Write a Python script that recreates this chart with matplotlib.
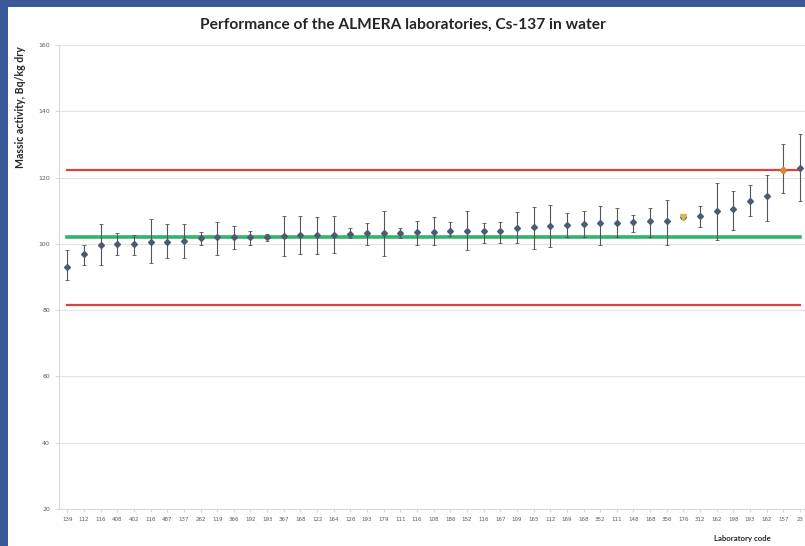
import numpy as np
import matplotlib
matplotlib.use("Agg")
import matplotlib.pyplot as plt
from matplotlib.patches import Rectangle

# Lab codes (x axis), measured values and uncertainty bounds
lab_codes = ["139", "112", "116", "408", "402", "116", "487", "137", "262", "119",
             "366", "192", "193", "367", "168", "122", "164", "126", "193", "179",
             "111", "116", "108", "186", "152", "116", "167", "109", "165", "112",
             "169", "168", "352", "111", "148", "168", "356", "176", "312", "162",
             "198", "193", "162", "157", "23"]
values = [92.9, 97.0, 99.7, 99.9, 99.9, 100.7, 100.7, 100.9, 101.7, 102.2,
          102.0, 102.0, 102.0, 102.4, 102.6, 102.7, 102.7, 103.0, 103.2, 103.2,
          103.2, 103.7, 103.5, 104.0, 104.0, 104.0, 104.0, 104.8, 105.1, 105.4,
          105.8, 106.0, 106.3, 106.3, 106.6, 106.8, 107.0, 108.1, 108.5, 110.0,
          110.6, 113.0, 114.3, 122.4, 122.9]
lower = [89.1, 93.6, 93.6, 96.7, 96.7, 94.2, 95.8, 95.8, 99.7, 96.7,
         98.3, 99.7, 100.8, 96.4, 97.0, 97.0, 97.3, 101.7, 99.7, 96.2,
         101.7, 99.7, 99.7, 102.4, 98.0, 100.3, 100.3, 100.2, 98.5, 99.2,
         102.2, 102.2, 99.7, 102.2, 103.7, 102.2, 99.7, 107.5, 105.2, 101.2,
         104.2, 108.3, 106.8, 115.4, 112.8]
upper = [98.2, 99.8, 106.0, 103.3, 102.7, 107.5, 106.0, 106.0, 103.7, 106.5,
         105.5, 104.0, 103.0, 108.5, 108.5, 108.0, 108.5, 104.8, 106.3, 110.0,
         104.8, 107.0, 108.0, 106.7, 110.0, 106.3, 106.6, 109.5, 111.0, 111.8,
         109.3, 109.8, 111.3, 110.8, 108.8, 110.8, 113.3, 108.7, 111.3, 118.4,
         115.8, 117.9, 120.9, 130.0, 133.0]
target = 102.0
limit_low = 81.6
limit_high = 122.4

x = np.arange(len(values))
v = np.array(values)
yerr = [v - np.array(lower), np.array(upper) - v]

fig = plt.figure(figsize=(8.05, 5.46), dpi=100)
fig.patch.set_facecolor("#3b5998")
fig.patches.append(Rectangle((8 / 805, 0), 1, 1 - 7 / 546, transform=fig.transFigure,
                             facecolor="white", edgecolor="none", zorder=-1))

ax = fig.add_axes([59 / 805, 37 / 546, 1 - 59 / 805, 464 / 546])
ax.set_zorder(2)
ax.set_facecolor("white")

ax.plot(x, [target] * len(x), color="#33b36b", lw=2.6, zorder=2)
ax.plot(x, [limit_high] * len(x), color="#e0403a", lw=1.6, zorder=2)
ax.plot(x, [limit_low] * len(x), color="#e0403a", lw=1.6, zorder=2)

ax.errorbar(x, v, yerr=yerr, fmt="D", ms=3, color="#4d5b6e", ecolor="#555555",
            elinewidth=0.8, capsize=1.2, capthick=0.6, zorder=3)
# highlighted labs
ax.plot(x[37], v[37], "v", ms=4, color="#d9b84a", zorder=4)
ax.plot(x[43], v[43], "D", ms=3.2, color="#e8803a", zorder=4)

ax.set_ylim(20, 160)
ax.set_yticks(range(20, 161, 20))
ax.set_xlim(-0.5, 44.3)
ax.set_xticks(x)
ax.set_xticklabels(lab_codes, fontsize=4, color="#595959")
ax.tick_params(axis="y", labelsize=4.5, labelcolor="#595959", length=3, color="#d9d9d9")
ax.tick_params(axis="x", length=2, color="#d9d9d9", pad=4)
ax.yaxis.grid(True, color="#e3e3e3", lw=0.8)
ax.set_axisbelow(True)
for s in ["top", "right"]:
    ax.spines[s].set_visible(False)
for s in ["left", "bottom"]:
    ax.spines[s].set_color("#d9d9d9")
    ax.spines[s].set_linewidth(0.8)

fig.text(0.5, 1 - 25 / 546, "Performance of the ALMERA laboratories, Cs-137 in water",
         ha="center", va="center", fontsize=11.2, fontweight="bold", family="Lato",
         color="#262626")
fig.text(21 / 805, 1 - 107 / 546, "Massic activity, Bq/kg dry", rotation=90,
         ha="center", va="center", fontsize=7.6, fontweight="bold", family="Lato",
         color="#262626")
fig.text(742 / 805, 1 - 538 / 546, "Laboratory code", ha="center", va="center",
         fontsize=5.6, fontweight="bold", family="Lato", color="#262626")

fig.savefig("out.png", dpi=100, facecolor=fig.get_facecolor())
